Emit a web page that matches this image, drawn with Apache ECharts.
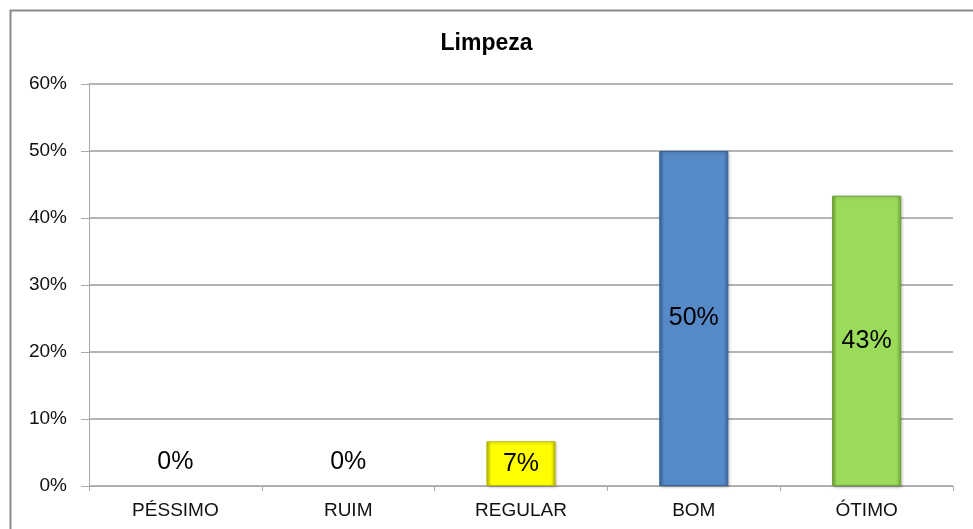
<!DOCTYPE html>
<html>
<head>
<meta charset="utf-8">
<script src="https://cdn.jsdelivr.net/npm/echarts@6/dist/echarts.min.js"></script>
<style>
html,body{margin:0;padding:0;background:#fff;}
#chart{width:973px;height:529px;}
</style>
</head>
<body>
<div id="chart"></div>
<script>
var categories = ['PÉSSIMO', 'RUIM', 'REGULAR', 'BOM', 'ÓTIMO'];
var values = [0, 0, 6.67, 50, 43.33];
var yTicks = [0, 10, 20, 30, 40, 50, 60];
var chartTitle = 'Limpeza';

var barColors = [
	['#b8b800', '#ffff00'],
	['#b8b800', '#ffff00'],
	['#b8b800', '#ffff00'],
	['#3a6598', '#5689c8'],
	['#6fa336', '#9bdb5a']
];

function barFill(pair) {
	return new echarts.graphic.LinearGradient(0, 0, 1, 0, [
		{offset: 0, color: pair[0]},
		{offset: 0.07, color: pair[1]},
		{offset: 0.93, color: pair[1]},
		{offset: 1, color: pair[0]}
	]);
}

var barData = values.map(function (v, i) {
	var item = {
		value: v,
		itemStyle: {
			color: barFill(barColors[i]),
			borderColor: barColors[i][0],
			borderWidth: 1,
			shadowColor: 'rgba(0,0,0,0.25)',
			shadowBlur: 3,
			shadowOffsetX: 1,
			shadowOffsetY: 1
		}
	};
	if (v === 0) {
		// nada visivel para barra zero, so o rotulo
		item.itemStyle = {color: 'rgba(0,0,0,0)', borderWidth: 0};
		item.label = {position: 'top', distance: 11};
	}
	return item;
});

var myChar = echarts.init(document.getElementById('chart'));
var myOption = {
	animation: false,
	title: {
		text: chartTitle,
		left: 'center',
		top: 27,
		textStyle: {fontFamily: 'Liberation Sans', fontWeight: 'bold', fontSize: 23, color: '#000'}
	},
	graphic: [{
		type: 'rect',
		left: 8,
		top: 8,
		shape: {width: 1000, height: 600},
		style: {fill: 'none', stroke: '#8a8a8a', lineWidth: 2},
		silent: true
	}],
	grid: {
		left: 89,
		right: 20,
		top: 84,
		bottom: 43
	},
	xAxis: {
		type: 'category',
		data: categories,
		axisLine: {lineStyle: {color: '#a8a8a8', width: 1}},
		axisTick: {show: true, length: 5, lineStyle: {color: '#a8a8a8'}},
		axisLabel: {
			margin: 15,
			fontFamily: 'Liberation Sans',
			fontSize: 19,
			color: '#111'
		}
	},
	yAxis: {
		type: 'value',
		min: yTicks[0],
		max: yTicks[yTicks.length - 1],
		interval: yTicks[1] - yTicks[0],
		axisLine: {show: true, lineStyle: {color: '#a8a8a8', width: 1}},
		axisTick: {show: true, length: 8, lineStyle: {color: '#a8a8a8'}},
		splitLine: {show: true, lineStyle: {color: '#b4b4b4', width: 2}},
		axisLabel: {
			margin: 22,
			fontFamily: 'Liberation Sans',
			fontSize: 19,
			color: '#111',
			formatter: '{value}%'
		}
	},
	series: [{
		type: 'bar',
		data: barData,
		barWidth: '40%',
		label: {
			show: true,
			position: 'inside',
			fontFamily: 'Liberation Sans',
			fontSize: 25,
			color: '#000',
			formatter: function (p) {
				return Math.round(p.value) + '%';
			}
		}
	}]
};
myChar.setOption(myOption);
</script>
</body>
</html>
